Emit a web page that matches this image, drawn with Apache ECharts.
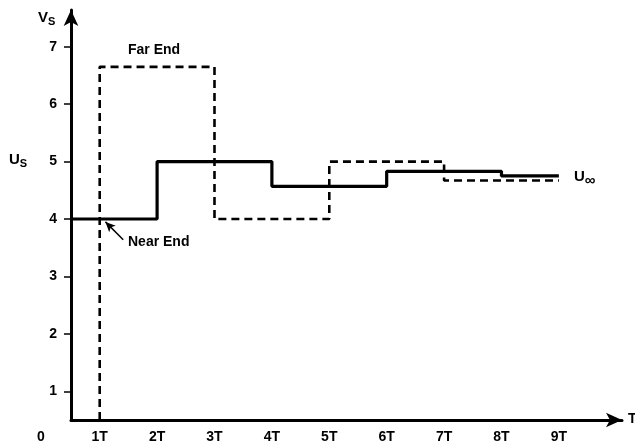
<!DOCTYPE html>
<html>
<head>
<meta charset="utf-8">
<script src="https://cdn.jsdelivr.net/npm/echarts@6/dist/echarts.min.js"></script>
<style>
  html, body { margin: 0; padding: 0; background: #fff; }
  #chart { width: 635px; height: 445px; }
</style>
</head>
<body>
<div id="chart"></div>
<script>
// step points (time in T, voltage)
var farTimes = [1, 1, 3, 5, 7, 9];
var farLevels = [0.5, 6.65, 4.0, 5.0, 4.67, 4.67];
var nearTimes = [0.5, 2, 4, 6, 8, 9];
var nearLevels = [4.0, 5.0, 4.57, 4.83, 4.75, 4.75];
var xTicks = [1, 2, 3, 4, 5, 6, 7, 8, 9];
var yTicks = [1, 2, 3, 4, 5, 6, 7];

function pairs(xs, ys) {
  var out = [];
  for (var i = 0; i < xs.length; i++) out.push([xs[i], ys[i]]);
  return out;
}

var font = 'Liberation Sans';
var myChart = echarts.init(document.getElementById('chart'));

option = {
  animation: false,
  textStyle: { fontFamily: font },
  grid: { left: 71, right: 13, top: 10, bottom: 25 },
  xAxis: {
    type: 'value',
    min: 0.5,
    max: 10.1,
    splitLine: { show: false },
    axisLine: {
      lineStyle: { color: '#000', width: 3 },
      symbol: ['none', 'arrow'],
      symbolSize: [11, 16]
    },
    axisTick: { show: false },
    axisLabel: {
      customValues: xTicks,
      formatter: function (v) { return v + 'T'; },
      color: '#000',
      fontWeight: 'bold',
      fontSize: 14,
      margin: 10
    }
  },
  yAxis: {
    type: 'value',
    min: 0.5,
    max: 7.64,
    splitLine: { show: false },
    axisLine: {
      onZero: false,
      lineStyle: { color: '#000', width: 3 },
      symbol: ['none', 'arrow'],
      symbolSize: [11, 16]
    },
    axisTick: {
      customValues: yTicks,
      length: 7,
      lineStyle: { color: '#000', width: 1.5 }
    },
    axisLabel: {
      customValues: yTicks,
      color: '#000',
      fontWeight: 'bold',
      fontSize: 14,
      margin: 14
    }
  },
  series: [
    {
      name: 'Far End',
      type: 'line',
      step: 'end',
      symbol: 'none',
      data: pairs(farTimes, farLevels),
      lineStyle: { color: '#000', width: 2.6, type: [8, 5] }
    },
    {
      name: 'Near End',
      type: 'line',
      step: 'end',
      symbol: 'none',
      data: pairs(nearTimes, nearLevels),
      lineStyle: { color: '#000', width: 3.2 },
      markLine: {
        silent: true,
        symbol: ['none', 'arrow'],
        symbolSize: [7, 10],
        label: { show: false },
        lineStyle: { color: '#000', width: 1.5, type: 'solid' },
        data: [[{ coord: [1.41, 3.64] }, { coord: [1.1, 3.95] }]]
      }
    }
  ],
  graphic: [
    {
      type: 'text', left: 38, top: 10,
      style: {
        text: '{a|V}{b|S}',
        rich: {
          a: { fontFamily: font, fontSize: 15, fontWeight: 'bold', fill: '#000' },
          b: { fontFamily: font, fontSize: 11, fontWeight: 'bold', fill: '#000', padding: [8, 0, 0, 0] }
        }
      }
    },
    {
      type: 'text', left: 9, top: 152,
      style: {
        text: '{a|U}{b|S}',
        rich: {
          a: { fontFamily: font, fontSize: 15, fontWeight: 'bold', fill: '#000' },
          b: { fontFamily: font, fontSize: 11, fontWeight: 'bold', fill: '#000', padding: [8, 0, 0, 0] }
        }
      }
    },
    {
      type: 'text', left: 574, top: 169,
      style: {
        text: '{a|U}{b|∞}',
        rich: {
          a: { fontFamily: font, fontSize: 15, fontWeight: 'bold', fill: '#000' },
          b: { fontFamily: font, fontSize: 15, fontWeight: 'bold', fill: '#000', padding: [8, 0, 0, 0] }
        }
      }
    },
    {
      type: 'text', left: 128, top: 43,
      style: { text: 'Far End', font: 'bold 14px ' + font, fill: '#000' }
    },
    {
      type: 'text', left: 128, top: 235,
      style: { text: 'Near End', font: 'bold 14px ' + font, fill: '#000' }
    },
    {
      type: 'text', left: 37, top: 430,
      style: { text: '0', font: 'bold 14px ' + font, fill: '#000' }
    },
    {
      type: 'text', left: 628, top: 412,
      style: { text: 'T', font: 'bold 14px ' + font, fill: '#000' }
    }
  ]
};

myChart.setOption(option);
window.addEventListener('resize', function () {
  myChart.resize();
});
</script>
</body>
</html>
